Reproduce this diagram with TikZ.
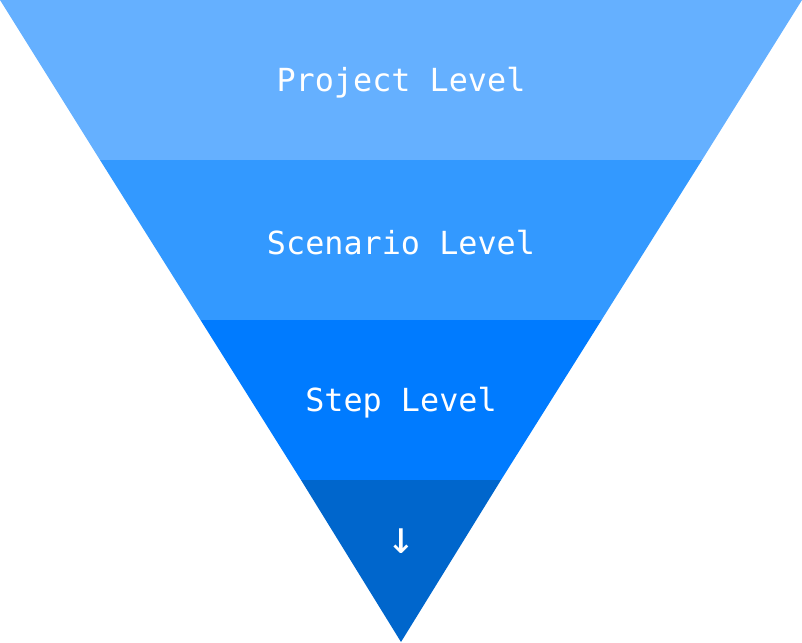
\documentclass[tikz,border=0pt]{standalone}
\usepackage{fontspec}
\setmonofont{DejaVu Sans Mono}
\usepackage{tikz}
\definecolor{projectblue}{HTML}{65B0FF}
\definecolor{scenarioblue}{HTML}{3399FF}
\definecolor{stepblue}{HTML}{007BFF}
\definecolor{downblue}{HTML}{0066CC}
\tikzset{levellabel/.style={text=white,font=\ttfamily\fontsize{31.8}{38}\selectfont}}

\begin{document}
\begin{tikzpicture}[x=1pt,y=1pt]
      \useasboundingbox (0,0) rectangle (802,-642);
      \fill[projectblue] (0,0) -- (802,0) -- (702,-160) -- (100,-160) -- cycle;
      \fill[scenarioblue] (100,-160) -- (702,-160) -- (601.5,-320) -- (200.5,-320) -- cycle;
      \fill[stepblue] (200.5,-320) -- (601.5,-320) -- (501,-480) -- (301,-480) -- cycle;
      \fill[downblue] (301,-480) -- (501,-480) -- (401,-642) -- cycle;
      \node[levellabel] (project) at (401,-83) {Project Level};
      \node[levellabel] (scenario) at (401,-243) {Scenario Level};
      \node[levellabel] (step) at (401,-403) {Step Level};
      \node[levellabel,font=\ttfamily\fontsize{46}{50}\selectfont] (down) at (401,-541) {↓};
    \end{tikzpicture}
\end{document}
